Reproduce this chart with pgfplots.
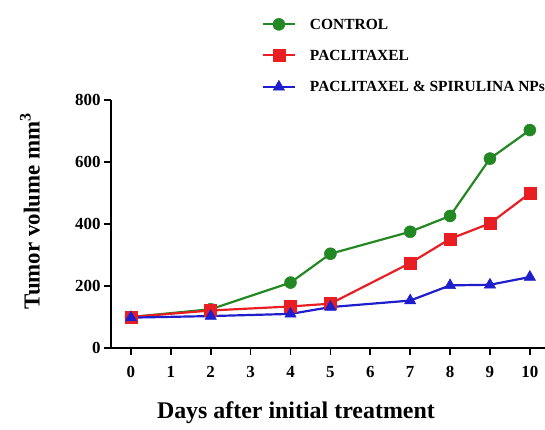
\documentclass[border=0pt]{standalone}
\usepackage{fontspec}
\setmainfont{Liberation Serif}
\usepackage{pgfplots}
\pgfplotsset{compat=1.18}
\definecolor{cgreen}{RGB}{35,135,35}
\definecolor{cred}{RGB}{232,30,35}
\definecolor{cblue}{RGB}{30,30,205}
\begin{document}
\begin{tikzpicture}[x=1bp,y=1bp]
\useasboundingbox (0,0) rectangle (545,429);
\begin{axis}[
  at={(111bp,81bp)}, anchor=south west,
  scale only axis, width=434bp, height=248bp,
  xmin=-0.5, xmax=10.38, ymin=0, ymax=800,
  axis lines=left, axis line style={-, line width=1.6pt},
  xtick={0,1,...,10}, ytick={0,200,400,600,800},
  tick align=outside, major tick length=7bp,
  tick style={line width=1.6pt, black},
  /pgf/number format/assume math mode=true,
  tick label style={font=\fontsize{17}{20}\selectfont\bfseries},
  xticklabel style={yshift=-8bp},
  xlabel={Days after initial treatment},
  xlabel style={at={(axis description cs:0.426,-0.262)}, anchor=center, font=\fontsize{24}{26}\selectfont\bfseries},
  ylabel={Tumor volume mm\textsuperscript{3}},
  ylabel style={at={(axis description cs:-0.187,0.552)}, anchor=center, font=\fontsize{23}{26}\selectfont\bfseries},
  clip=false,
  legend cell align=left,
  legend style={at={(axis description cs:0.347,1.33)}, anchor=north west, draw=none, fill=none,
    font=\fontsize{15.5}{18}\selectfont\bfseries, row sep=19bp, inner sep=0pt,
    nodes={inner sep=0pt, text depth=0pt},
    /tikz/every odd column/.style={column sep=14bp}},
  legend image code/.code={\draw[mark repeat=2,mark phase=2,#1] plot coordinates {(0bp,0bp) (16bp,0bp) (32bp,0bp)};},
]
\addplot[color=cgreen, line width=2.2pt, mark=*, mark size=6bp, mark options={fill=cgreen, line width=0.5pt}]
  coordinates {(0,100) (2,125) (4,211) (5,304) (7,375) (8,426) (9,611) (10,703)};
\addlegendentry{CONTROL}
\addplot[color=cred, line width=2.2pt, mark=square*, mark size=6bp, mark options={fill=cred, line width=0.5pt}]
  coordinates {(0,100) (2,121) (4,134) (5,143) (7,274) (8,352) (9,402) (10,499)};
\addlegendentry{PACLITAXEL}
\addplot[color=cblue, line width=2.2pt, mark=triangle*, mark size=6.5bp, mark options={fill=cblue, line width=0.5pt}]
  coordinates {(0,98) (2,103) (4,110) (5,132) (7,153) (8,202) (9,204) (10,229)};
\addlegendentry{PACLITAXEL \& SPIRULINA NPs}
\end{axis}
\end{tikzpicture}
\end{document}
